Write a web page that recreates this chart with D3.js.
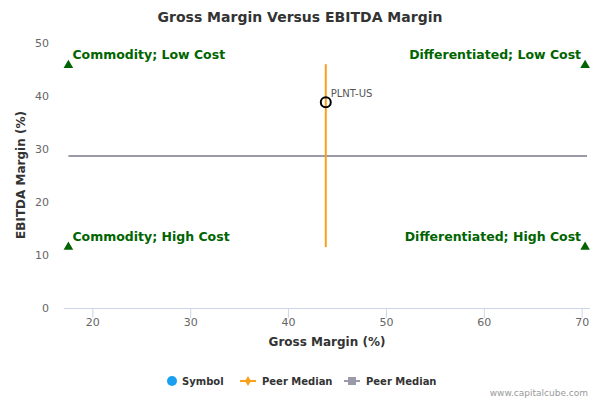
<!DOCTYPE html>
<html><head><meta charset="utf-8">
<script src="https://cdn.jsdelivr.net/npm/d3@7"></script>
<style>body{margin:0;font-family:"DejaVu Sans",sans-serif;background:#fff}</style>
</head><body><div id="chart"></div>
<script>
const xTicks = [20, 30, 40, 50, 60, 70];
const yTicks = [0, 10, 20, 30, 40, 50];
const symbol = { name: "PLNT-US", gross: 43.8, ebitda: 38.8 };
const peerVertical = [{ x: 43.8, y: 46 }, { x: 43.8, y: 11.5 }];
const peerHorizontal = [{ x: 17.5, y: 28.7 }, { x: 70.5, y: 28.7 }];
const corners = [
    { x: 17.5, y: 45.8, label: "Commodity; Low Cost", anchor: "start" },
    { x: 70.3, y: 45.8, label: "Differentiated; Low Cost", anchor: "end" },
    { x: 17.5, y: 11.5, label: "Commodity; High Cost", anchor: "start" },
    { x: 70.3, y: 11.5, label: "Differentiated; High Cost", anchor: "end" }
];

const svg = d3.select("#chart").append("svg").attr("width", 600).attr("height", 400);
const x = d3.scaleLinear().domain([17.05, 70.8]).range([64, 590]);
const y = d3.scaleLinear().domain([0, 50]).range([308, 43]);

svg.append("text").attr("x", 300).attr("y", 22).attr("text-anchor", "middle")
    .style("font-size", "14px").style("font-weight", "bold").attr("fill", "#333")
    .text("Gross Margin Versus EBITDA Margin");

// axes
svg.append("line").attr("x1", 64).attr("x2", 590).attr("y1", 308.5).attr("y2", 308.5).attr("stroke", "#ccd6eb");
xTicks.forEach(t => {
    svg.append("line").attr("x1", x(t)).attr("x2", x(t)).attr("y1", 308).attr("y2", 318).attr("stroke", "#ccd6eb");
    svg.append("text").attr("x", x(t)).attr("y", 326).attr("text-anchor", "middle")
        .style("font-size", "11px").attr("fill", "#666").text(t);
});
yTicks.forEach(t => {
    svg.append("text").attr("x", 49).attr("y", y(t) + 4).attr("text-anchor", "end")
        .style("font-size", "11px").attr("fill", "#666").text(t);
});
svg.append("text").attr("x", 327).attr("y", 346).attr("text-anchor", "middle")
    .style("font-size", "12px").style("font-weight", "bold").attr("fill", "#333").text("Gross Margin (%)");
svg.append("text").attr("transform", "translate(25,175) rotate(-90)").attr("text-anchor", "middle")
    .style("font-size", "12px").style("font-weight", "bold").attr("fill", "#333").text("EBITDA Margin (%)");

const line = d3.line().x(d => x(d.x)).y(d => y(d.y));
svg.append("path").datum(peerHorizontal).attr("d", line).attr("stroke", "#9a9aa8").attr("stroke-width", 2).attr("fill", "none");
svg.append("path").datum(peerVertical).attr("d", line).attr("stroke", "#f7a21b").attr("stroke-width", 2).attr("fill", "none");

corners.forEach(c => {
    svg.append("path").attr("d", d3.symbol(d3.symbolTriangle, 40)())
        .attr("transform", `translate(${x(c.x)},${y(c.y)})`).attr("fill", "#006400");
    svg.append("text").attr("x", x(c.x) + (c.anchor === "start" ? 4 : -4)).attr("y", y(c.y) - 6)
        .attr("text-anchor", c.anchor).style("font-size", "12.5px").style("font-weight", "bold")
        .attr("fill", "#006400").text(c.label);
});

svg.append("circle").attr("cx", x(symbol.gross)).attr("cy", y(symbol.ebitda)).attr("r", 5)
    .attr("fill", "none").attr("stroke", "#000").attr("stroke-width", 2);
svg.append("text").attr("x", x(symbol.gross) + 5).attr("y", y(symbol.ebitda) - 5)
    .style("font-size", "10px").attr("fill", "#555").text(symbol.name);

// legend
const lg = svg.append("g").style("font-size", "10px").style("font-weight", "bold").attr("fill", "#333");
lg.append("circle").attr("cx", 172).attr("cy", 381).attr("r", 5).attr("fill", "#1aa0f0");
lg.append("text").attr("x", 182).attr("y", 385).text("Symbol");
lg.append("line").attr("x1", 240).attr("x2", 256).attr("y1", 381).attr("y2", 381).attr("stroke", "#f7a21b").attr("stroke-width", 2);
lg.append("path").attr("d", d3.symbol(d3.symbolDiamond, 30)()).attr("transform", "translate(248,381)").attr("fill", "#f7a21b");
lg.append("text").attr("x", 262).attr("y", 385).text("Peer Median");
lg.append("line").attr("x1", 344).attr("x2", 360).attr("y1", 381).attr("y2", 381).attr("stroke", "#9a9aa8").attr("stroke-width", 2);
lg.append("rect").attr("x", 348).attr("y", 377).attr("width", 8).attr("height", 8).attr("fill", "#9a9aa8");
lg.append("text").attr("x", 366).attr("y", 385).text("Peer Median");
svg.append("text").attr("x", 588).attr("y", 396).attr("text-anchor", "end")
    .style("font-size", "9px").attr("fill", "#999").text("www.capitalcube.com");
</script></body></html>
